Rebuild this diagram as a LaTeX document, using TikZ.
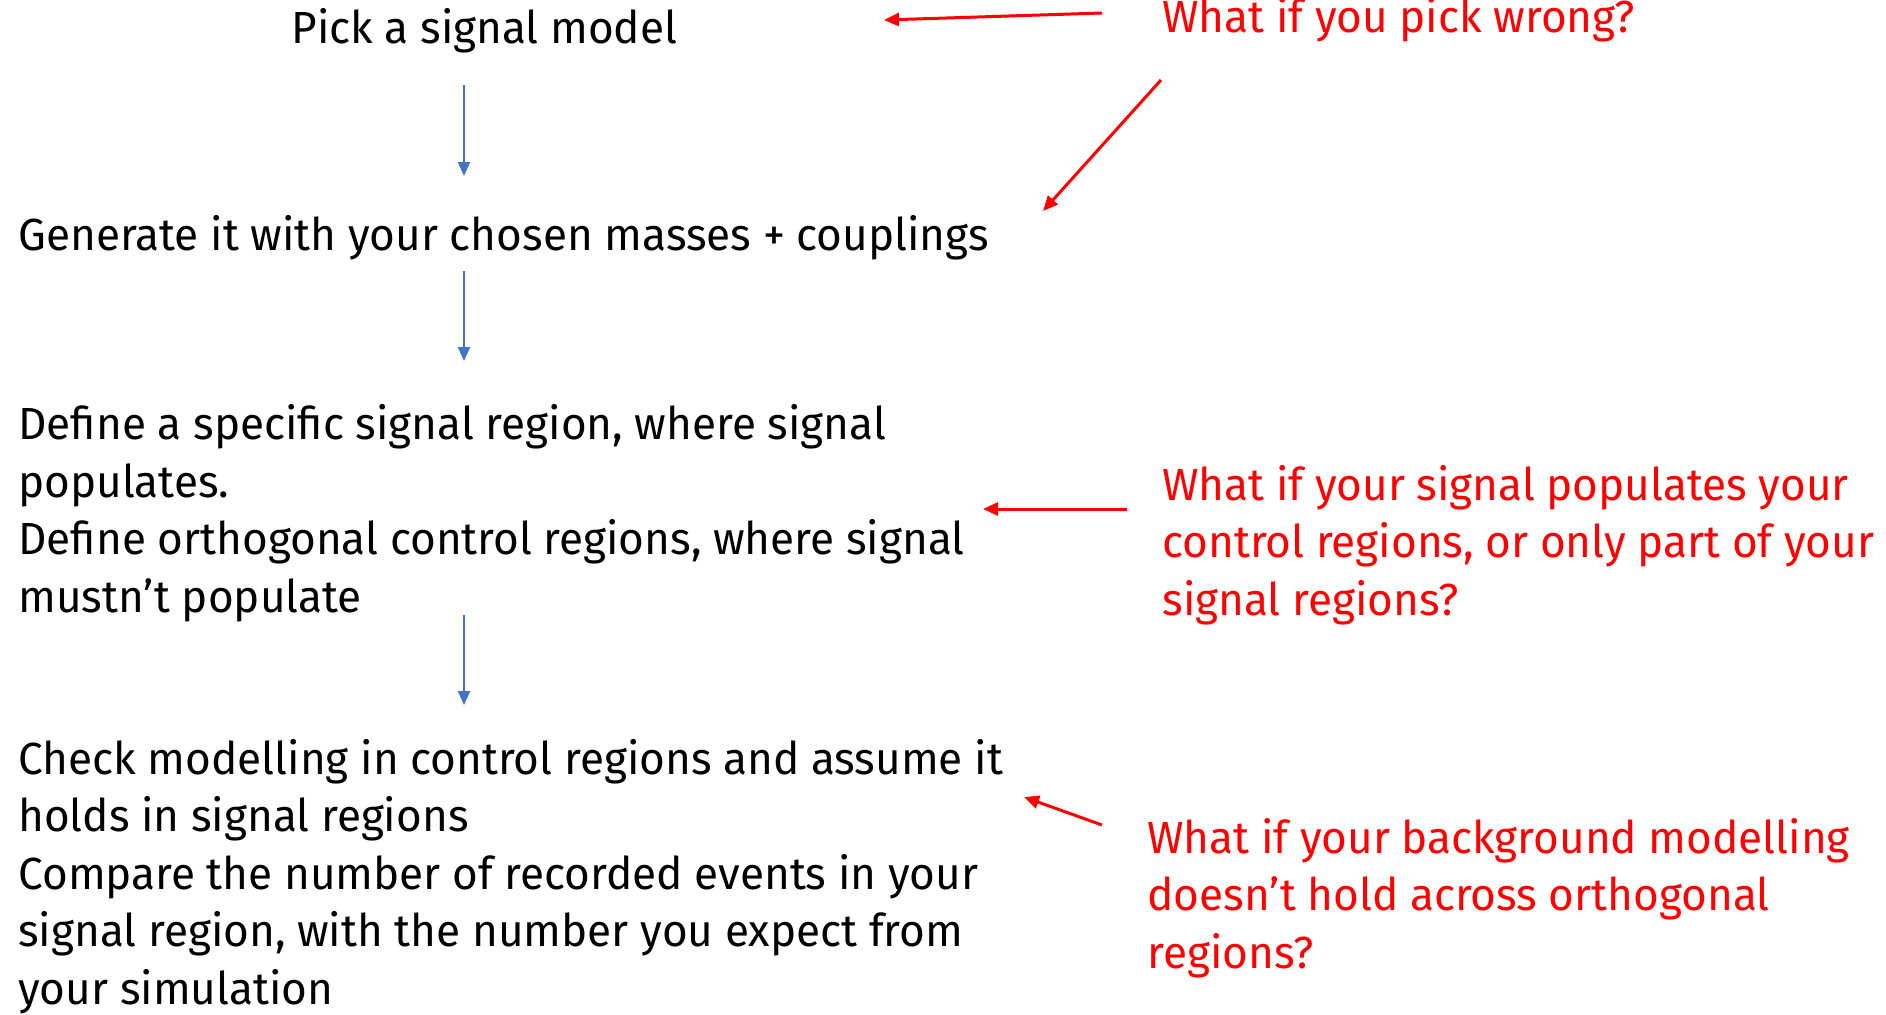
\documentclass[tikz,border=0pt]{standalone}
\usepackage{fontspec}
\setmainfont[FakeStretch=0.98]{Fira Sans}
\usepackage{xcolor}
\usetikzlibrary{arrows.meta}
\definecolor{flowblue}{HTML}{4472C4}
\definecolor{askred}{HTML}{FF0000}

\begin{document}
\begin{tikzpicture}[x=0.5pt, y=-0.5pt,
    every node/.style={inner sep=0pt, anchor=base west, align=left,
        font=\fontsize{22.5}{28.7}\selectfont},
    stage/.style={text=black},
    ask/.style={text=askred},
    flow/.style={flowblue, line width=1pt, -{Triangle[length=7pt, width=6pt]}},
    hint/.style={askred, line width=1.5pt, -{Triangle[length=7.5pt, width=6.5pt]}}]
    \useasboundingbox (0,0) rectangle (1886,1014);

    % Steps (multi-line nodes sit on their last baseline)
    \node[stage] (pick) at (291,43) {Pick a signal model};
    \node[stage] (gen) at (18,250) {Generate it with your chosen masses + couplings};
    \node[stage] (regions) at (18,612) {Define a specific signal region, where signal\\
        populates.\\Define orthogonal control regions, where signal\\mustn’t populate};
    \node[stage] (check) at (18,1004) {Check modelling in control regions and assume it\\
        holds in signal regions\\Compare the number of recorded events in your\\
        signal region, with the number you expect from\\your simulation};

    % Questions
    \node[ask] (qpick) at (1162,32) {What if you pick wrong?};
    \node[ask] (qregions) at (1162,615) {What if your signal populates your\\
        control regions, or only part of your\\signal regions?};
    \node[ask] (qmodel) at (1147,968) {What if your background modelling\\
        doesn’t hold across orthogonal\\regions?};

    % Arrow ends
    \coordinate (f1a) at (464,85);  \coordinate (f1b) at (464,176);
    \coordinate (f2a) at (464,271); \coordinate (f2b) at (464,361);
    \coordinate (f3a) at (464,615); \coordinate (f3b) at (464,705);
    \coordinate (h1a) at (1102,13); \coordinate (h1b) at (884,20);
    \coordinate (h2a) at (1161,80); \coordinate (h2b) at (1043,211);
    \coordinate (h3a) at (1127,509); \coordinate (h3b) at (983,509);
    \coordinate (h4a) at (1102,825); \coordinate (h4b) at (1024,797);

    % Flow
    \draw[flow] (f1a) -- (f1b);
    \draw[flow] (f2a) -- (f2b);
    \draw[flow] (f3a) -- (f3b);

    % Pointers from the questions
    \draw[hint] (h1a) -- (h1b);
    \draw[hint] (h2a) -- (h2b);
    \draw[hint] (h3a) -- (h3b);
    \draw[hint] (h4a) -- (h4b);
\end{tikzpicture}
\end{document}
